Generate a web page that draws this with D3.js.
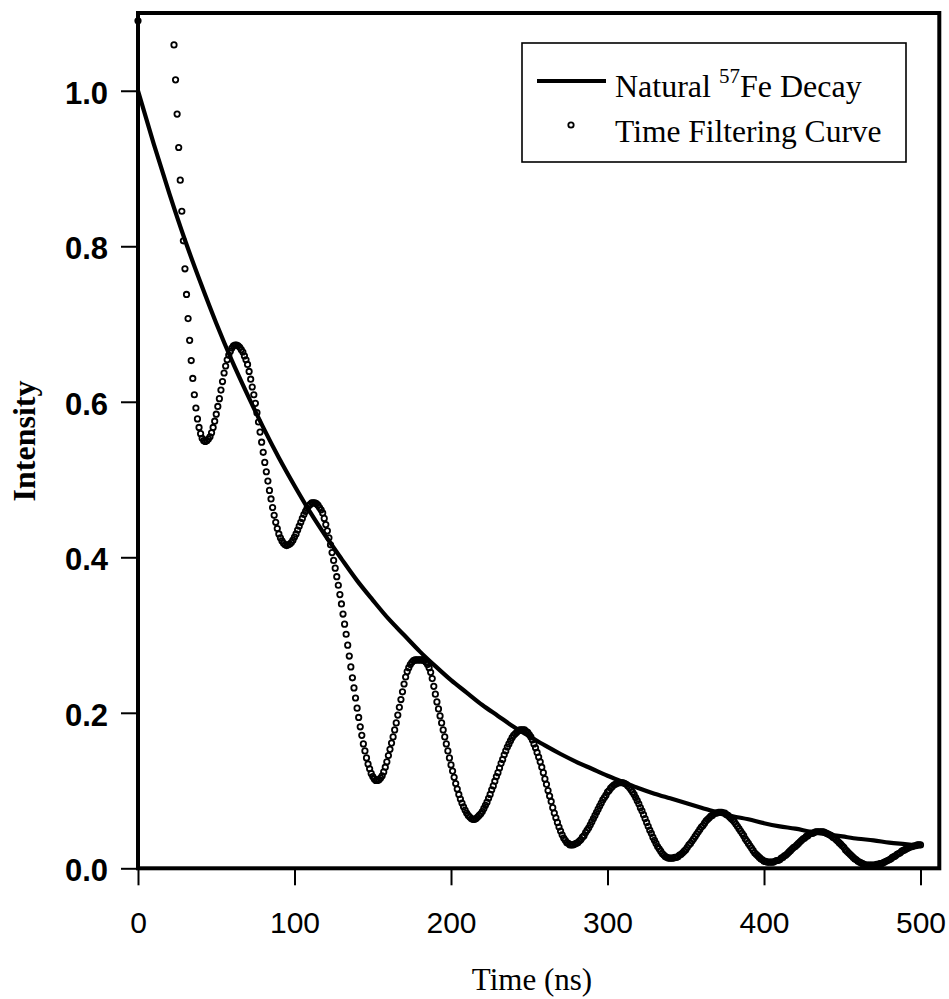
<!DOCTYPE html>
<html>
<head>
<meta charset="utf-8">
<script src="https://cdn.jsdelivr.net/npm/d3@7"></script>
<style>
body{margin:0;background:#fff}
</style>
</head>
<body>
<svg id="chart" width="949" height="999"></svg>
<script>
// natural 57Fe decay, read every 10 ns
var decayTimes = [0,10,20,30,40,50,60,70,80,90,100,110,120,130,140,150,160,170,180,190,200,
	210,220,230,240,250,260,270,280,290,300,310,320,330,340,350,360,370,380,390,400,
	410,420,430,440,450,460,470,480,490,500]
var decayValues = [1.000,0.932,0.868,0.808,0.753,0.701,0.653,0.609,0.567,0.528,0.492,
	0.458,0.427,0.398,0.370,0.345,0.321,0.300,0.279,0.260,0.242,
	0.226,0.210,0.196,0.182,0.170,0.158,0.147,0.137,0.128,0.119,
	0.111,0.103,0.096,0.090,0.084,0.078,0.072,0.067,0.063,0.058,
	0.054,0.051,0.047,0.044,0.041,0.038,0.036,0.033,0.031,0.029]

// time filtering curve, one point per ns from 0 ns; null = above the plot top
var filterStep = 1
var filterValues = [
	1.09,null,null,null,null,null,null,null,null,null,
	null,null,null,null,null,null,null,null,null,null,
	null,null,null,1.059,1.014,0.970,0.927,0.885,0.845,0.807,
	0.771,0.738,0.707,0.679,0.653,0.630,0.609,0.592,0.578,0.567,
	0.559,0.553,0.550,0.549,0.550,0.552,0.555,0.560,0.567,0.575,
	0.584,0.594,0.604,0.615,0.626,0.637,0.646,0.654,0.660,0.665,
	0.669,0.672,0.673,0.673,0.672,0.670,0.667,0.664,0.659,0.654,
	0.648,0.639,0.629,0.619,0.609,0.598,0.586,0.574,0.561,0.548,
	0.535,0.522,0.510,0.498,0.486,0.475,0.464,0.454,0.445,0.437,
	0.430,0.425,0.421,0.418,0.416,0.415,0.416,0.417,0.419,0.422,
	0.426,0.430,0.435,0.440,0.445,0.450,0.455,0.459,0.463,0.466,
	0.468,0.470,0.470,0.470,0.469,0.467,0.464,0.461,0.457,0.450,
	0.442,0.434,0.425,0.416,0.406,0.396,0.386,0.375,0.364,0.352,
	0.340,0.327,0.314,0.301,0.287,0.273,0.259,0.245,0.232,0.219,
	0.206,0.194,0.182,0.171,0.160,0.151,0.142,0.134,0.128,0.122,
	0.118,0.115,0.113,0.113,0.114,0.116,0.119,0.124,0.130,0.137,
	0.145,0.153,0.161,0.169,0.178,0.187,0.197,0.207,0.217,0.227,
	0.237,0.246,0.253,0.258,0.262,0.265,0.267,0.268,0.268,0.268,
	0.268,0.268,0.268,0.267,0.265,0.262,0.258,0.252,0.244,0.234,
	0.224,0.214,0.205,0.196,0.187,0.178,0.169,0.160,0.151,0.142,
	0.133,0.125,0.117,0.109,0.102,0.095,0.089,0.084,0.079,0.075,
	0.071,0.068,0.066,0.064,0.063,0.063,0.064,0.066,0.068,0.070,
	0.073,0.077,0.081,0.085,0.090,0.095,0.101,0.106,0.112,0.118,
	0.123,0.129,0.135,0.140,0.146,0.151,0.156,0.160,0.164,0.168,
	0.171,0.173,0.175,0.177,0.178,0.178,0.178,0.178,0.176,0.175,
	0.172,0.169,0.165,0.160,0.155,0.149,0.143,0.137,0.130,0.123,
	0.115,0.108,0.100,0.093,0.086,0.078,0.071,0.065,0.059,0.053,
	0.048,0.043,0.039,0.036,0.033,0.032,0.030,0.030,0.030,0.031,
	0.032,0.033,0.035,0.037,0.040,0.042,0.046,0.049,0.052,0.056,
	0.060,0.064,0.068,0.072,0.076,0.080,0.084,0.088,0.091,0.094,
	0.098,0.100,0.103,0.105,0.107,0.108,0.109,0.110,0.110,0.110,
	0.110,0.109,0.108,0.106,0.104,0.101,0.098,0.095,0.091,0.087,
	0.083,0.078,0.074,0.069,0.064,0.059,0.054,0.049,0.045,0.040,
	0.036,0.032,0.028,0.025,0.022,0.019,0.017,0.015,0.014,0.013,
	0.013,0.013,0.013,0.014,0.014,0.015,0.017,0.018,0.020,0.022,
	0.024,0.027,0.030,0.032,0.035,0.038,0.041,0.044,0.047,0.050,
	0.053,0.055,0.058,0.061,0.063,0.065,0.067,0.068,0.070,0.071,
	0.071,0.072,0.072,0.072,0.071,0.071,0.069,0.068,0.066,0.064,
	0.062,0.060,0.057,0.054,0.051,0.048,0.045,0.042,0.038,0.035,
	0.032,0.029,0.026,0.023,0.020,0.018,0.016,0.014,0.012,0.011,
	0.009,0.009,0.008,0.008,0.008,0.008,0.008,0.009,0.010,0.010,
	0.011,0.013,0.014,0.016,0.017,0.019,0.021,0.023,0.025,0.027,
	0.028,0.030,0.032,0.034,0.036,0.038,0.039,0.041,0.042,0.044,
	0.045,0.045,0.046,0.047,0.047,0.047,0.047,0.047,0.047,0.046,
	0.045,0.044,0.043,0.042,0.040,0.039,0.037,0.035,0.033,0.031,
	0.029,0.027,0.024,0.022,0.020,0.018,0.016,0.014,0.012,0.011,
	0.009,0.008,0.007,0.006,0.005,0.004,0.004,0.004,0.004,0.004,
	0.004,0.004,0.005,0.005,0.006,0.006,0.007,0.008,0.009,0.010,
	0.011,0.012,0.014,0.015,0.016,0.018,0.019,0.020,0.022,0.023,
	0.024,0.025,0.026,0.027,0.028,0.028,0.029,0.029,0.030,0.030,
	0.030]

var xTicks = [0,100,200,300,400,500]
var yTicks = [0,0.2,0.4,0.6,0.8,1.0]
var xLabel = 'Time (ns)'
var yLabel = 'Intensity'
var legendNames = ['Natural ', 'Time Filtering Curve']

function chart(){

	var svg = d3.select('svg#chart')
	var scale_x = d3.scaleLinear().domain([0, 512]).range([138, 939.3])
	var scale_y = d3.scaleLinear().domain([0, 1.1]).range([868.3, 13])

	var filter = filterValues
		.map(function(v, i){ return {t: i * filterStep, v: v} })
		.filter(function(e){ return e.v !== null && e.v <= 1.1 })
	var decay = decayTimes.map(function(t, i){ return {t: t, v: decayValues[i]} })

	// axes
	var ax = svg.append('g')
		.attr('transform', 'translate(0,' + scale_y(0) + ')')
		.call(d3.axisBottom(scale_x).tickValues(xTicks).tickSize(17).tickPadding(26).tickFormat(d3.format('d')))
	ax.select('.domain').remove()
	ax.selectAll('line').attr('stroke', '#000').attr('stroke-width', 2)
	ax.selectAll('text')
		.attr('fill', '#000')
		.style('font-family', '"Liberation Sans", Arial, sans-serif')
		.style('font-size', '30px')

	var ay = svg.append('g')
		.attr('transform', 'translate(' + scale_x(0) + ',0)')
		.call(d3.axisLeft(scale_y).tickValues(yTicks).tickSize(17).tickPadding(13).tickFormat(d3.format('.1f')))
	ay.select('.domain').remove()
	ay.selectAll('line').attr('stroke', '#000').attr('stroke-width', 2)
	ay.selectAll('text')
		.attr('fill', '#000')
		.attr('dy', '0.4em')
		.style('font-family', '"Liberation Sans", Arial, sans-serif')
		.style('font-weight', 'bold')
		.style('font-size', '31px')

	// time filtering curve: open circles
	svg.append('g').selectAll('.pt')
		.data(filter)
		.enter()
		.append('circle')
		.attr('class', 'pt')
		.attr('cx', function(e){ return scale_x(e.t) })
		.attr('cy', function(e){ return scale_y(e.v) })
		.attr('r', 2.7)
		.style('fill', 'none')
		.style('stroke', '#000')
		.style('stroke-width', 1.8)

	var line = d3.line()
		.x(function(e){ return scale_x(e.t) })
		.y(function(e){ return scale_y(e.v) })
		.curve(d3.curveMonotoneX)
	svg.append('path')
		.attr('d', line(decay))
		.style('fill', 'none')
		.style('stroke', '#000')
		.style('stroke-width', 4.2)

	// frame
	svg.append('rect')
		.attr('x', scale_x(0))
		.attr('y', scale_y(1.1))
		.attr('width', scale_x(512) - scale_x(0))
		.attr('height', scale_y(0) - scale_y(1.1))
		.style('fill', 'none')
		.style('stroke', '#000')
		.style('stroke-width', 4)

	// titles
	svg.append('text')
		.attr('x', 532).attr('y', 990)
		.attr('text-anchor', 'middle')
		.style('font-family', '"Liberation Serif", "Times New Roman", serif')
		.style('font-size', '31px')
		.text(xLabel)
	svg.append('text')
		.attr('transform', 'translate(35,441) rotate(-90)')
		.attr('text-anchor', 'middle')
		.style('font-family', '"Liberation Serif", "Times New Roman", serif')
		.style('font-weight', 'bold')
		.style('font-size', '32px')
		.text(yLabel)

	// legend
	var lg = svg.append('g')
	lg.append('rect')
		.attr('x', 522).attr('y', 43).attr('width', 384).attr('height', 119)
		.style('fill', '#fff').style('stroke', '#000').style('stroke-width', 1.6)
	lg.append('line')
		.attr('x1', 537).attr('x2', 606).attr('y1', 81).attr('y2', 81)
		.style('stroke', '#000').style('stroke-width', 4.2)
	lg.append('circle')
		.attr('cx', 571).attr('cy', 125).attr('r', 2.7)
		.style('fill', 'none').style('stroke', '#000').style('stroke-width', 1.8)
	var t1 = lg.append('text')
		.attr('x', 615).attr('y', 97)
		.style('font-family', '"Liberation Serif", "Times New Roman", serif')
		.style('font-size', '32px')
	t1.append('tspan').text(legendNames[0])
	t1.append('tspan').attr('dy', -14).style('font-size', '21px').text('57')
	t1.append('tspan').attr('dy', 14).text('Fe Decay')
	lg.append('text')
		.attr('x', 615).attr('y', 142)
		.style('font-family', '"Liberation Serif", "Times New Roman", serif')
		.style('font-size', '31.5px')
		.text(legendNames[1])
}

chart()
</script>
</body>
</html>
